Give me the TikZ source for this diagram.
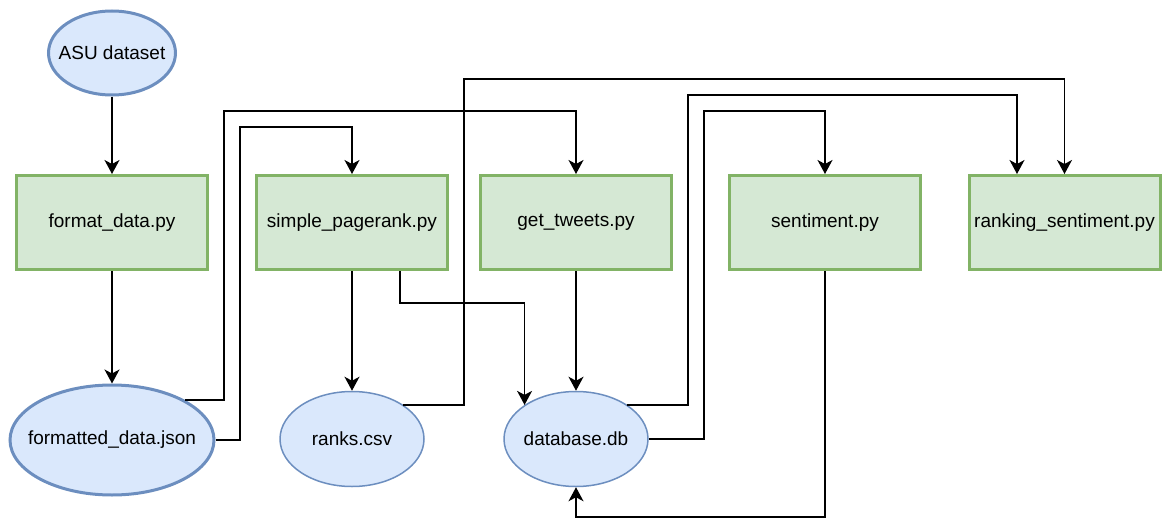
\documentclass[tikz,border=0pt]{standalone}
\usepackage{fontspec}
\setmainfont{Liberation Sans}
\usetikzlibrary{arrows.meta,shapes.geometric}
\definecolor{gfill}{HTML}{D5E8D4}
\definecolor{gline}{HTML}{82B366}
\definecolor{bfill}{HTML}{DAE8FC}
\definecolor{bline}{HTML}{6C8EBF}
\tikzset{
  x=1pt, y=-1pt,
  txt/.style={font=\fontsize{19}{23}\selectfont, inner sep=0pt},
  script/.style={txt, rectangle, draw=gline, fill=gfill, line width=3pt, minimum width=191pt, minimum height=94pt},
  datathick/.style={ellipse, inner sep=0pt, draw=bline, fill=bfill, line width=3pt},
  datathin/.style={ellipse, inner sep=0pt, draw=bline, fill=bfill, line width=1.5pt},
  arr/.style={line width=1.5pt, -{Stealth[length=14pt,width=15pt,inset=4pt]}},
}
\begin{document}
\begin{tikzpicture}
\useasboundingbox (0,0) rectangle (1162,519);
% nodes
\node[datathick, minimum width=127pt, minimum height=84pt, label={[txt]center:ASU dataset}] (asu) at (112,53) {};
\node[script] (fd) at (112,222.5) {format\_data.py};
\node[script] (sp) at (352,222.5) {simple\_pagerank.py};
\node[script] (gt) at (576,222.5) {get\_tweets.py};
\node[script] (se) at (825,222.5) {sentiment.py};
\node[script] (rs) at (1064.5,222.5) {ranking\_sentiment.py};
\node[datathick, minimum width=204pt, minimum height=110pt, label={[txt]center:formatted\_data.json}] (fdj) at (112,440) {};
\node[datathin, minimum width=144pt, minimum height=95pt, label={[txt]center:ranks.csv}] (rk) at (352,439) {};
\node[datathin, minimum width=144pt, minimum height=95pt, label={[txt]center:database.db}] (db) at (576,439) {};
% connectors
\draw[arr] (asu) -- (fd);
\draw[arr] (fd) -- (fdj);
\draw[arr] (fdj.north east) -| (224,111) -| (gt.north);
\draw[arr] (fdj.east) -| (240,127) -| (sp.north);
\draw[arr] (sp) -- (rk);
\draw[arr] (sp.south -| 400,0) |- (db.north west |- 0,303) -- (db.north west);
\draw[arr] (gt) -- (db);
\draw[arr] (rk.north east) -| (464,79) -| (rs.north);
\draw[arr] (db.north east) -| (688,95) -| ([xshift=-47.5pt]rs.north);
\draw[arr] (db.east) -| (704,111) -| (se.north);
\draw[arr] (se.south) -- (se.south |- 0,517) -| (db.south);
\end{tikzpicture}
\end{document}
